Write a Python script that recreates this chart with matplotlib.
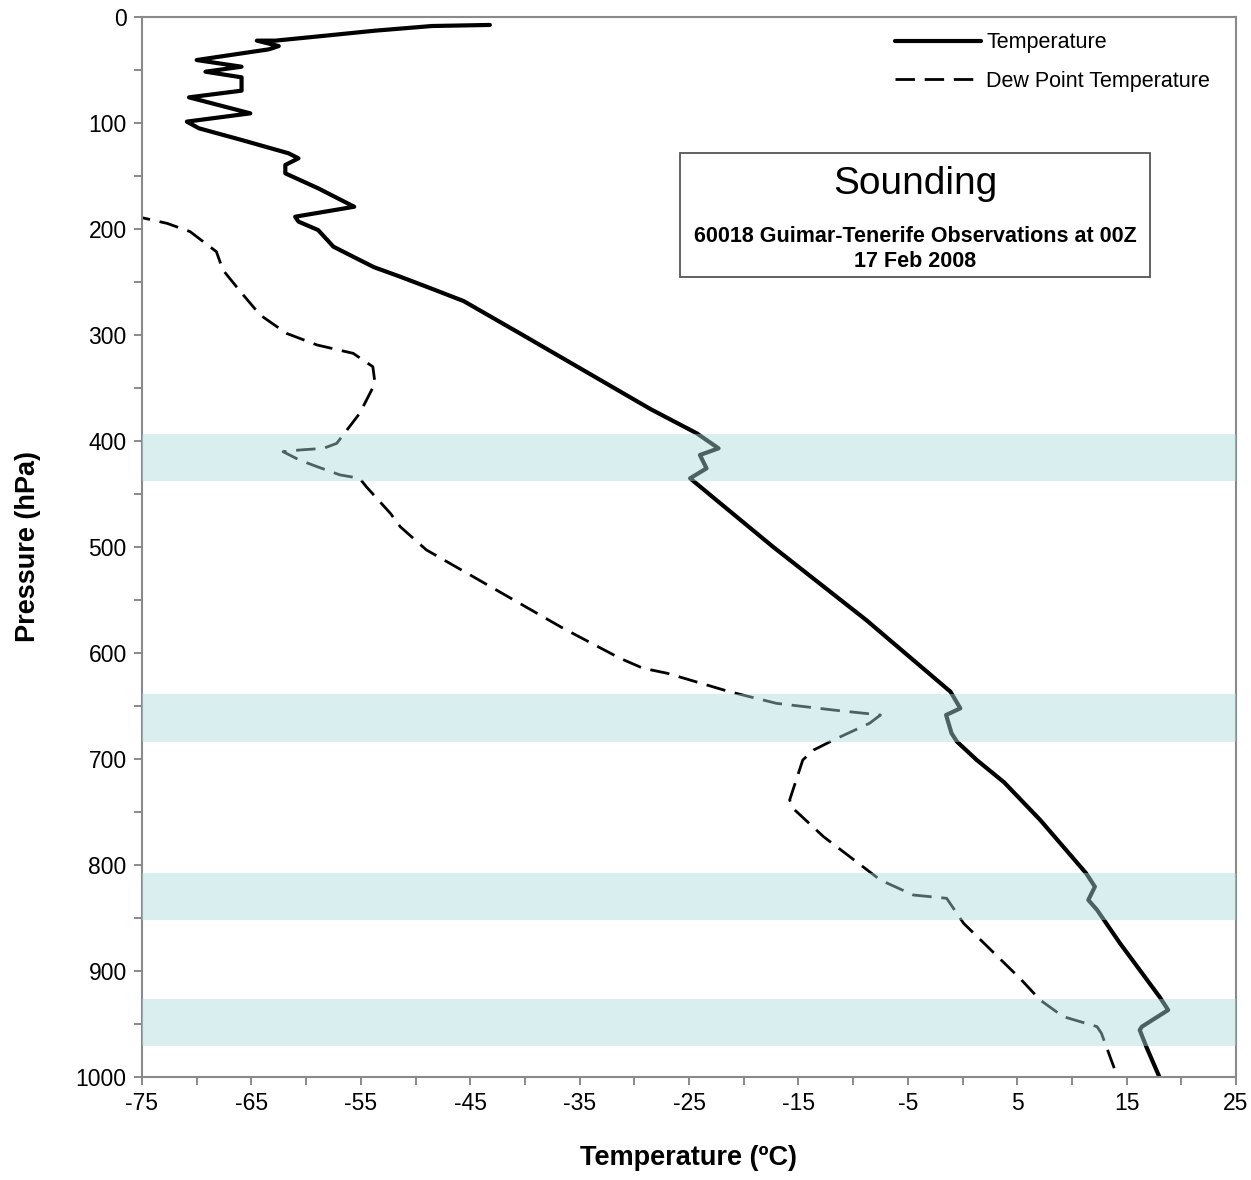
import matplotlib
matplotlib.use("Agg")
import matplotlib.pyplot as plt
from matplotlib.patches import Rectangle

plt.rcParams['font.family'] = ['Liberation Sans', 'DejaVu Sans']
plt.rcParams['axes.unicode_minus'] = False

# Temperature profile, top of sounding downwards (hPa, degC)
temp_p = [7.5, 8.5, 12.9, 17.9, 22.3, 22.3, 27.4, 30.5, 40.6, 46.9, 51.6, 56.9,
          69.5, 75.8, 90.9, 98.7, 105, 116, 128.6, 133.3, 139.6, 147.5, 161.6,
          179, 188.4, 193, 201, 216.7, 227.7, 236, 245, 256, 268, 300, 342.5,
          370, 392.7, 406.9, 413.2, 425.8, 435.2, 455.7, 500, 568.9, 636.5,
          652.2, 658.5, 675.8, 683.7, 700.9, 722, 757.5, 807.8, 820.5, 833,
          842.4, 873.9, 924.2, 936.8, 952.5, 955.7, 971.4, 1000]
temp_t = [-43.2, -48.5, -53.7, -58.5, -62.8, -64.5, -62.5, -63.4, -70.0, -65.9,
          -69.2, -65.9, -65.9, -70.7, -65.1, -70.9, -69.8, -65.9, -61.6, -60.7,
          -61.9, -61.9, -58.9, -55.6, -61.0, -60.7, -58.9, -57.5, -55.4, -53.8,
          -51.4, -48.6, -45.6, -40.2, -33.1, -28.5, -24.3, -22.3, -24.0, -23.4,
          -24.9, -22.5, -17.3, -8.8, -1.1, -0.2, -1.5, -1.0, -0.5, 1.3, 3.8,
          7.1, 11.3, 12.1, 11.5, 12.3, 14.4, 18.0, 18.8, 16.4, 16.2, 16.8, 18.0]

# Dew point profile (hPa, degC)
dew_p = [187, 194.7, 202.5, 221.4, 238.7, 259.1, 281.1, 298.4, 309.4, 317.3,
         329.9, 345.6, 373.9, 402.2, 406.9, 408.5, 410.1, 418, 424.2, 432,
         435.2, 443.1, 468.2, 480.8, 502.8, 526.4, 576.7, 605, 614.4, 619.1,
         636.5, 647.5, 653.8, 658.5, 666.3, 682.1, 691.5, 700.9, 738.7, 746.5,
         773.3, 814.2, 828.3, 831.4, 855, 906.9, 927.4, 943, 952.5, 958.8,
         998.1, 1000]
dew_t = [-76.0, -72.7, -70.6, -68.2, -67.6, -66.0, -64.2, -61.8, -59.0, -55.7,
         -53.9, -53.7, -55.1, -57.2, -58.4, -60.6, -62.1, -60.6, -59.0, -56.9,
         -55.1, -54.5, -52.3, -51.4, -49.0, -45.0, -36.5, -31.3, -29.2, -27.0,
         -21.3, -17.0, -11.8, -7.5, -8.5, -11.8, -13.6, -14.6, -15.8, -15.5,
         -12.7, -7.5, -4.5, -1.45, 0.1, 5.25, 7.1, 9.2, 12.3, 12.7, 14.1, 14.1]

# highlighted pressure layers (hPa)
layers = [(393, 438), (639, 684), (808, 852), (926, 971)]

x_major = list(range(-75, 26, 10))
x_minor = list(range(-70, 26, 10))
y_major = list(range(0, 1001, 100))
y_minor = list(range(50, 1000, 100))

fig = plt.figure(figsize=(12.51, 11.80), dpi=100)
ax = fig.add_axes([142 / 1251, 1 - 1077 / 1180, 1094 / 1251, 1060 / 1180])

ax.plot(temp_t, temp_p, color='black', lw=3.0, solid_capstyle='round',
        solid_joinstyle='round', label='Temperature', zorder=2)
ax.plot(dew_t, dew_p, color='black', lw=2.0, dashes=(7, 3.5),
        label='Dew Point Temperature', zorder=2)

for lo, hi in layers:
    ax.axhspan(lo, hi, color=(0.67, 0.86, 0.86), alpha=0.45, lw=0, zorder=3)

ax.set_xlim(-75, 25)
ax.set_ylim(1000, 0)
ax.set_xticks(x_major)
ax.set_xticks(x_minor, minor=True)
ax.set_yticks(y_major)
ax.set_yticks(y_minor, minor=True)
ax.tick_params(which='both', direction='out', length=6, width=1.3,
               color='#808080', labelsize=16.5, pad=5)

for s in ax.spines.values():
    s.set_color('#8a8a8a')
    s.set_linewidth(1.5)

ax.set_xlabel('Temperature (ºC)', fontsize=19.5, fontweight='bold')
ax.set_ylabel('Pressure (hPa)', fontsize=19.5, fontweight='bold')
ax.xaxis.set_label_coords(0.5, -0.064)
ax.yaxis.set_label_coords(-0.092, 0.5)

ax.legend(loc='upper left', bbox_to_anchor=(0.688, 0.9855), frameon=False,
          fontsize=15.5, handlelength=4.0, handletextpad=0.25,
          labelspacing=0.8, borderpad=0, borderaxespad=0)

# title box
ax.add_patch(Rectangle((0.492, 0.755), 0.429, 0.117, transform=ax.transAxes,
                       fill=False, edgecolor='#555555', lw=1.3, zorder=4))
ax.text(0.7066, 0.8425, 'Sounding', transform=ax.transAxes, fontsize=28,
        ha='center', va='center', zorder=5)
ax.text(0.7066, 0.7925, '60018 Guimar-Tenerife Observations at 00Z',
        transform=ax.transAxes, fontsize=15.5, fontweight='bold',
        ha='center', va='center', zorder=5)
ax.text(0.7066, 0.7689, '17 Feb 2008', transform=ax.transAxes, fontsize=15.5,
        fontweight='bold', ha='center', va='center', zorder=5)

fig.savefig('out.png', dpi=100)
